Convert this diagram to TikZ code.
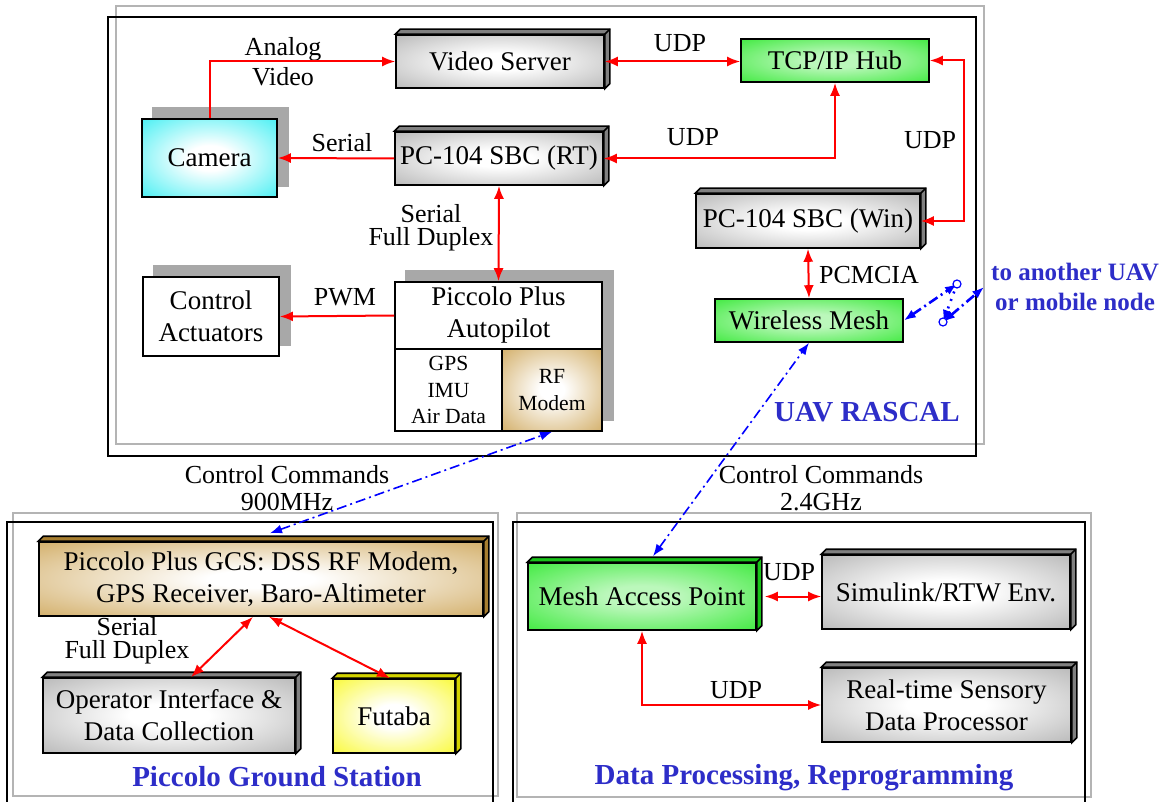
\documentclass[tikz,border=0pt]{standalone}
\usepackage{fontspec}
\setmainfont{Liberation Serif}
\usetikzlibrary{arrows.meta,backgrounds}

\definecolor{boxgray}{RGB}{160,160,160}
\definecolor{shadegray}{RGB}{168,168,168}
\definecolor{framegray}{RGB}{180,180,180}
\definecolor{meshgreen}{RGB}{30,230,30}
\definecolor{camcyan}{RGB}{20,235,240}
\definecolor{rfbrown}{RGB}{196,148,55}
\definecolor{futyellow}{RGB}{248,248,0}
\definecolor{titleblue}{RGB}{45,45,200}

% soft centre-lit fills
\pgfdeclareradialshading{litgray}{\pgfpoint{0bp}{0bp}}{color(0bp)=(white); color(8bp)=(white); color(46bp)=(boxgray); color(50bp)=(boxgray)}
\pgfdeclareradialshading{litgreen}{\pgfpoint{0bp}{0bp}}{color(0bp)=(white!70!meshgreen); color(8bp)=(white!70!meshgreen); color(44bp)=(meshgreen); color(50bp)=(meshgreen)}
\pgfdeclareradialshading{litcyan}{\pgfpoint{0bp}{0bp}}{color(0bp)=(white); color(8bp)=(white); color(44bp)=(camcyan); color(50bp)=(camcyan)}
\pgfdeclareradialshading{litbrown}{\pgfpoint{0bp}{0bp}}{color(0bp)=(white); color(6bp)=(white); color(46bp)=(rfbrown); color(50bp)=(rfbrown)}
\pgfdeclareradialshading{lityellow}{\pgfpoint{0bp}{0bp}}{color(0bp)=(white); color(8bp)=(white); color(44bp)=(futyellow); color(50bp)=(futyellow)}

% depth faces of a raised box
\newcommand{\slab}[2]{%
  \filldraw[fill=#2, draw=black, line width=0.8pt] (#1.north west) -- ++(5,-5)
    -- ([shift={(5,-5)}]#1.north east) -- ([shift={(5,-5)}]#1.south east)
    -- (#1.south east) -- (#1.north east) -- cycle;
  \draw[line width=0.8pt] (#1.north east) -- ++(5,-5);
}

\tikzset{
  blk/.style={draw, line width=0.8pt, align=center, inner sep=0pt,
    font=\fontsize{13.5}{16}\selectfont},
  grayblk/.style={blk, shading=litgray},
  greenblk/.style={blk, shading=litgreen},
  lbl/.style={align=center, font=\fontsize{13}{15}\selectfont},
  title/.style={text=titleblue, font=\bfseries\fontsize{14.5}{17}\selectfont},
  link/.style={red, line width=1pt, -{Latex[length=6.5pt,width=5pt]}},
  dlink/.style={red, line width=1pt, {Latex[length=6.5pt,width=5pt]}-{Latex[length=6.5pt,width=5pt]}},
  radio/.style={blue, line width=0.8pt, dash pattern=on 5pt off 2pt on 1pt off 2pt,
    {Latex[length=6pt,width=4.5pt]}-{Latex[length=6pt,width=4.5pt]}}
}

\begin{document}
\begin{tikzpicture}[x=0.5pt,y=-0.5pt]
  \useasboundingbox (0,0) rectangle (1168,802);

  % frames
  \draw[framegray, line width=0.8pt] (116,6) rectangle (984,444);
  \draw[line width=0.7pt] (108,17) rectangle (976,456);
  \draw[framegray, line width=0.8pt] (13,513) rectangle (498,796);
  \draw[line width=0.7pt] (7,810) -- (7,522) -- (493,522) -- (493,810);
  \draw[framegray, line width=0.8pt] (517,513) rectangle (1091,797);
  \draw[line width=0.7pt] (513,810) -- (513,522) -- (1085,522) -- (1085,810);

  % UAV RASCAL
  \node[grayblk, minimum width=104pt, minimum height=26.5pt] (vserver) at (500,61.5) {Video Server};
  \node[greenblk, minimum width=94pt, minimum height=21.5pt] (hub) at (835,60.5) {TCP/IP Hub};
  \node[blk, shading=litcyan, minimum width=67.5pt, minimum height=39pt] (camera) at (209.5,158) {Camera};
  \node[grayblk, minimum width=104pt, minimum height=26.5pt] (rt) at (499,158.5) {PC-104 SBC (RT)};
  \node[grayblk, minimum width=112pt, minimum height=27pt] (win) at (808,221) {PC-104 SBC (Win)};
  \node[greenblk, minimum width=94pt, minimum height=21.5pt] (mesh) at (809,320.5) {Wireless Mesh};
  \node[blk, fill=white, minimum width=68pt, minimum height=39.5pt] (act) at (211,316.5) {Control\\Actuators};
  \node[blk, fill=white, minimum width=103.5pt, minimum height=33.5pt] (pic) at (498.5,315.5) {Piccolo Plus\\Autopilot};
  \node[blk, fill=white, minimum width=53.5pt, minimum height=41pt, font=\fontsize{10.8}{13.3}\selectfont] (sens) at (448.5,390) {GPS\\IMU\\Air Data};
  \node[blk, shading=litbrown, minimum width=50pt, minimum height=41pt, font=\fontsize{10.8}{13.3}\selectfont] (rfm) at (552,390) {RF\\Modem};
  \slab{vserver}{boxgray!80!black}
  \slab{rt}{boxgray!80!black}
  \slab{win}{boxgray!80!black}

  \begin{scope}[on background layer]
    \fill[shadegray] ([shift={(11,-11)}]camera.south west) rectangle ([shift={(11,-11)}]camera.north east);
    \fill[shadegray] ([shift={(11,-11)}]act.south west) rectangle ([shift={(11,-11)}]act.north east);
    \fill[shadegray] ([shift={(11,-11)}]sens.south west) rectangle ([shift={(11,-11)}]pic.north east);
  \end{scope}

  \node[lbl] (lvideo) at (283,62) {Analog\\Video};
  \node[lbl] (ludpa) at (680,43) {UDP};
  \node[lbl] (lserial) at (342,143) {Serial};
  \node[lbl] (ludpb) at (693,137) {UDP};
  \node[lbl] (ludpc) at (930,140) {UDP};
  \node[lbl] (lduplex) at (431,228) {Serial\\[-3.5pt]Full Duplex};
  \node[lbl] (lpwm) at (345,297) {PWM};
  \node[lbl] (lpcmcia) at (869,275) {PCMCIA};
  \node[title, align=center, font=\bfseries\fontsize{12.5}{15}\selectfont] (ext) at (1075,287) {to another UAV\\or mobile node};
  \node[title] (luav) at (867,412) {UAV RASCAL};

  \draw[link] (camera.north) |- (vserver.west);
  \draw[dlink] (vserver.east) -- (vserver.east -| hub.west);
  \draw[link] (rt.west) -- (camera.east);
  \draw[dlink] (rt.east) -| (hub.south);
  \draw[dlink] (hub.east) -- ++(34,0) |- (win.east);
  \draw[dlink] (rt.south) -- (pic.north);
  \draw[link] (pic.west) -- (act.east);
  \draw[dlink] (win.south) -- (mesh.north);

  % link to another UAV
  \coordinate (c1) at (957,284);
  \coordinate (c2) at (943,322);
  \draw[radio, line width=1.3pt] (mesh.east) -- (c1);
  \draw[radio, line width=1.3pt, dash pattern=on 1pt off 3pt, -{Latex[length=6pt,width=4.5pt]}] (c1) -- (c2);
  \draw[radio, line width=1.3pt] (c2) -- (ext.west);
  \draw[blue, fill=white, line width=0.6pt] (c1) circle (2pt) (c2) circle (2pt);

  % Piccolo Ground Station
  \node[blk, shading=litbrown, minimum width=222pt, minimum height=37pt] (gcs) at (261,579) {Piccolo Plus GCS: DSS RF Modem,\\GPS Receiver, Baro-Altimeter};
  \node[grayblk, minimum width=126pt, minimum height=37.5pt] (opi) at (169,715.5) {Operator Interface \&\\Data Collection};
  \node[blk, shading=lityellow, minimum width=61pt, minimum height=37pt] (futaba) at (394,716) {Futaba};
  \slab{gcs}{rfbrown!85!black}
  \slab{opi}{boxgray!80!black}
  \slab{futaba}{futyellow!85!black}

  \node[lbl] (lgcs) at (127,641) {Serial\\[-3.5pt]Full Duplex};
  \node[title] (lground) at (277,777) {Piccolo Ground Station};
  \draw[dlink] ([xshift=-4]gcs.south) -- ([xshift=11]opi.north);
  \draw[dlink] ([xshift=4]gcs.south) -- ([xshift=-2]futaba.north);

  % Data Processing, Reprogramming
  \node[greenblk, minimum width=114pt, minimum height=33.5pt] (map) at (642,596.5) {Mesh Access Point};
  \node[grayblk, minimum width=124pt, minimum height=37pt] (sim) at (946,592) {Simulink/RTW Env.};
  \node[grayblk, minimum width=124.5pt, minimum height=37pt] (rts) at (946.5,705) {Real-time Sensory\\Data Processor};
  \slab{map}{meshgreen!85!black}
  \slab{sim}{boxgray!80!black}
  \slab{rts}{boxgray!80!black}

  \node[lbl] (ludpd) at (789,572) {UDP};
  \node[lbl] (ludpe) at (736,690) {UDP};
  \node[title] (ldata) at (804,778) {Data Processing, Reprogramming};
  \draw[dlink] ([xshift=4]map.east) -- (map.east -| sim.west);
  \draw[dlink] (map.south) |- (rts.west);

  % radio links
  \node[lbl] (lcmda) at (287,488) {Control Commands\\[-1.5pt]900MHz};
  \node[lbl] (lcmdb) at (821,488) {Control Commands\\[-1.5pt]2.4GHz};
  \draw[radio] ([shift={(9,-8)}]gcs.north) -- (rfm.south);
  \draw[radio] ([shift={(11,-6)}]map.north) -- (mesh.south);
\end{tikzpicture}
\end{document}
